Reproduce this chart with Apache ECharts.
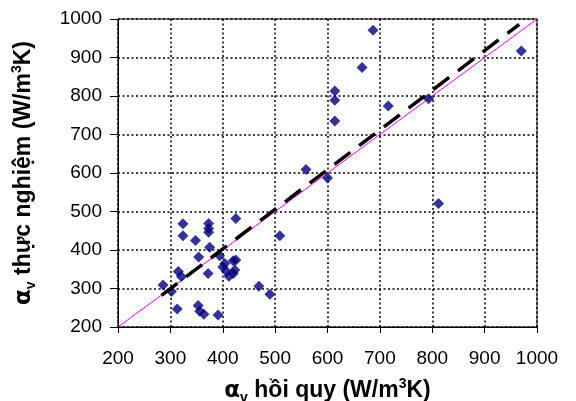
<!DOCTYPE html>
<html>
<head>
<meta charset="utf-8">
<script src="https://cdn.jsdelivr.net/npm/echarts@6/dist/echarts.min.js"></script>
<style>html,body{margin:0;padding:0;background:#fff}#c{width:576px;height:401px}</style>
</head>
<body>
<div id="c"></div>
<script>
var xTicks = [200, 300, 400, 500, 600, 700, 800, 900, 1000];
var yTicks = [200, 300, 400, 500, 600, 700, 800, 900, 1000];
var ptX = [687, 970, 666, 614, 614, 614, 716, 793, 559, 600, 812, 509, 425, 324, 324, 373, 373, 373, 348, 375, 354, 394, 404, 420, 425, 407, 420, 412, 423, 400, 372, 315, 321, 286, 302, 469, 490, 313, 353, 356, 364, 391];
var ptY = [971, 917, 874, 813, 789, 735, 774, 793, 609, 587, 521, 437, 482, 468, 437, 469, 456, 446, 425, 407, 382, 385, 365, 372, 374, 344, 339, 332, 348, 356, 339, 344, 331, 309, 292, 306, 285, 247, 256, 241, 233, 231];
var trendX = [283, 966];
var trendY = [282, 986];
var diagX = [200, 1000];
var diagY = [200, 1000];

var pts = ptX.map(function (x, i) { return [x, ptY[i]]; });
var trend = trendX.map(function (x, i) { return [x, trendY[i]]; });
var diag = diagX.map(function (x, i) { return [x, diagY[i]]; });

var chart = echarts.init(document.getElementById('c'), null, {renderer: 'canvas'});
var nameRich = {
  b: {fontFamily: 'Liberation Sans', fontWeight: 'bold', fontSize: 23, color: '#000', lineHeight: 28, verticalAlign: 'middle'},
  a: {fontFamily: 'DejaVu Sans', fontWeight: 'bold', fontSize: 23, color: '#000', lineHeight: 28, verticalAlign: 'middle'},
  s: {fontFamily: 'Liberation Sans', fontWeight: 'bold', fontSize: 14, color: '#000', lineHeight: 28, verticalAlign: 'bottom'},
  p: {fontFamily: 'Liberation Sans', fontWeight: 'bold', fontSize: 14, color: '#000', lineHeight: 28, verticalAlign: 'top'}
};
var gridLine = {show: true, lineStyle: {color: '#000', width: 1.5, type: [2, 2.5]}};
chart.setOption({
  animation: false,
  grid: {left: 118, right: 39, top: 19, bottom: 74, containLabel: false, outerBoundsMode: 'none',
    show: true, borderColor: '#000', borderWidth: 1},
  xAxis: {
    type: 'value', min: 200, max: 1000, interval: 100,
    name: '{a|α}{s|v}{b| hồi quy (W/m}{p|3}{b|K)}',
    nameLocation: 'middle', nameGap: 50,
    nameTextStyle: {rich: nameRich},
    axisLine: {show: true, lineStyle: {color: '#000', width: 1}},
    axisTick: {show: true, inside: false, length: 6, lineStyle: {color: '#000'}},
    axisLabel: {color: '#000', fontFamily: 'Liberation Sans', fontSize: 19, margin: 22,
      formatter: function (v) { return xTicks.indexOf(v) >= 0 ? String(v) : ''; }},
    splitLine: gridLine
  },
  yAxis: {
    type: 'value', min: 200, max: 1000, interval: 100,
    name: '{a|α}{s|v}{b| thực nghiệm (W/m}{p|3}{b|K)}',
    nameLocation: 'middle', nameGap: 80, nameRotate: 90,
    nameTextStyle: {rich: nameRich},
    axisLine: {show: true, lineStyle: {color: '#000', width: 1}},
    axisTick: {show: true, inside: false, length: 8, lineStyle: {color: '#000'}},
    axisLabel: {color: '#000', fontFamily: 'Liberation Sans', fontSize: 19, margin: 16,
      formatter: function (v) { return yTicks.indexOf(v) >= 0 ? String(v) : ''; }},
    splitLine: gridLine
  },
  series: [
    {type: 'line', data: diag, symbol: 'none', lineStyle: {color: '#ff00ff', width: 1}, z: 2, silent: true},
    {type: 'scatter', data: pts, symbol: 'diamond', symbolSize: 11, itemStyle: {color: '#000080'}, z: 3},
    {type: 'line', data: trend, symbol: 'none', lineStyle: {color: '#000', width: 3.5, type: [20, 11]}, z: 4, silent: true}
  ]
});
</script>
</body>
</html>
